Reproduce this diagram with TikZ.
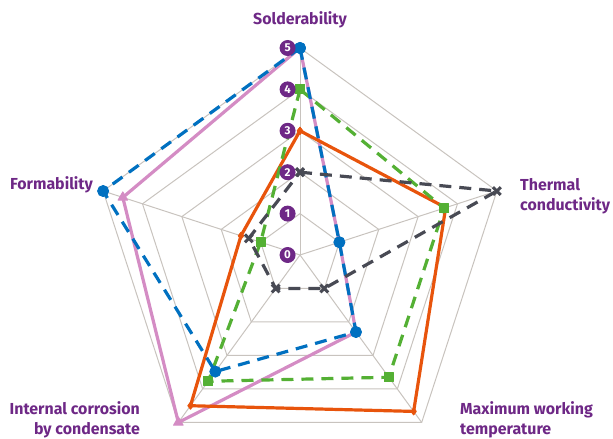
\documentclass[tikz,border=0pt]{standalone}
\usepackage{fontspec}
\setmainfont{Fira Sans}
\usepackage{tikz}
\usetikzlibrary{plotmarks}
\definecolor{radpurple}{RGB}{110, 40, 134}
\definecolor{radblue}{RGB}{0, 112, 192}
\definecolor{radpink}{RGB}{212, 140, 196}
\definecolor{radorange}{RGB}{232, 84, 12}
\definecolor{radgreen}{RGB}{84, 176, 52}
\definecolor{radgrey}{RGB}{72, 74, 84}
\definecolor{radgrid}{RGB}{200, 195, 190}
\tikzset{
	axislabel/.style={text=radpurple, font=\bfseries\fontsize{16}{20}\selectfont, inner sep=0},
	levelmark/.style={circle, fill=radpurple, text=white, inner sep=0, minimum size=16bp, font=\bfseries\fontsize{11.5}{11.5}\selectfont},
	gridline/.style={radgrid, line width=1bp},
	series/.style={line width=3.2bp, line join=round, mark options={solid, line width=1bp}},
	dashedseries/.style={series, dash pattern=on 12bp off 8bp}
}

\begin{document}
\begin{tikzpicture}[x=1bp, y=1bp]
	\useasboundingbox (0, 0) rectangle (613, 439);
	\begin{scope}[shift={(300, 184)}, x=41.4bp, y=41.4bp]
		\draw [gridline] (90:1) -- (18:1) -- (-54:1) -- (-126:1) -- (162:1) -- cycle;
		\draw [gridline] (90:2) -- (18:2) -- (-54:2) -- (-126:2) -- (162:2) -- cycle;
		\draw [gridline] (90:3) -- (18:3) -- (-54:3) -- (-126:3) -- (162:3) -- cycle;
		\draw [gridline] (90:4) -- (18:4) -- (-54:4) -- (-126:4) -- (162:4) -- cycle;
		\draw [gridline] (90:5) -- (18:5) -- (-54:5) -- (-126:5) -- (162:5) -- cycle;
		\draw [gridline] (0, 0) -- (90:5);
		\draw [gridline] (0, 0) -- (18:5);
		\draw [gridline] (0, 0) -- (-54:5);
		\draw [gridline] (0, 0) -- (-126:5);
		\draw [gridline] (0, 0) -- (162:5);

		\draw [radpink, series] plot [mark=triangle*, mark size=5.5bp] coordinates {(90:5) (18:1) (-54:2.3) (-126:5) (162:4.5) (90:5)};
		\draw [radorange, series] plot [mark=diamond*, mark size=3.5bp] coordinates {(90:3) (18:3.7) (-54:4.67) (-126:4.5) (162:1.5) (90:3)};
		\draw [radgreen, dashedseries] plot [mark=square*, mark size=4.5bp] coordinates {(90:4) (18:3.66) (-54:3.65) (-126:3.77) (162:1) (90:4)};
		\draw [radblue, dashedseries] plot [mark=*, mark size=5.5bp] coordinates {(90:5) (18:1) (-54:2.3) (-126:3.48) (162:5) (90:5)};
		\draw [radgrey, dashedseries, mark options={solid, line width=3bp}] plot [mark=x, mark size=5.5bp] coordinates {(90:2) (18:5) (-54:1) (-126:1) (162:1.3) (90:2)};

		\node [levelmark] (lvl0) at (-0.3, 0) {0};
		\node [levelmark] (lvl1) at (-0.3, 1) {1};
		\node [levelmark] (lvl2) at (-0.3, 2) {2};
		\node [levelmark] (lvl3) at (-0.3, 3) {3};
		\node [levelmark] (lvl4) at (-0.3, 4) {4};
		\node [levelmark] (lvl5) at (-0.3, 5) {5};
	\end{scope}

	\node [axislabel] (solder) at (300, 419) {Solderability};
	\node [axislabel, anchor=west, align=left] (thermal) at (520, 243) {Thermal\\conductivity};
	\node [axislabel, anchor=east] (form) at (93, 254) {Formability};
	\node [axislabel, anchor=east, align=right] (corrosion) at (140, 19) {Internal corrosion\\by condensate};
	\node [axislabel, anchor=west, align=left] (maxtemp) at (460, 19) {Maximum working\\temperature};
\end{tikzpicture}
\end{document}
